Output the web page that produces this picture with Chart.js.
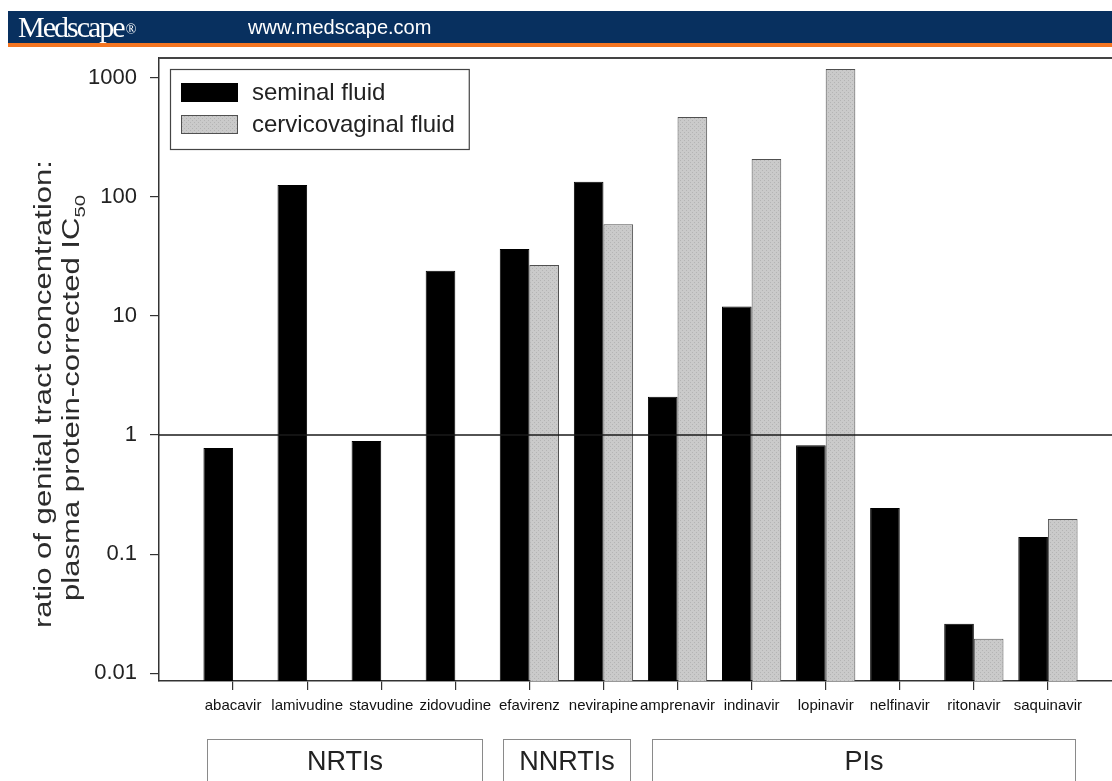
<!DOCTYPE html>
<html lang="en">
<head>
<meta charset="UTF-8" />
<title>Genital tract concentration vs plasma protein-corrected IC50</title>
<script src="https://cdn.jsdelivr.net/npm/chart.js"></script>
<style>
    html, body { margin: 0; padding: 0; background: #fff; overflow: hidden; }
    body { width: 1112px; height: 781px; position: relative; font-family: Arial, 'Liberation Sans', sans-serif; }
    .topbar { position: absolute; left: 8px; top: 11px; right: 0; height: 32px; background: #08305f; border-bottom: 4px solid #f47521; z-index: 2; }
    .brand { position: absolute; left: 10px; top: 0; line-height: 32px; font-family: 'Liberation Serif', 'Times New Roman', serif; font-size: 30px; color: #fff; letter-spacing: -2px; }
    .brand span { font-size: 14px; letter-spacing: 0; vertical-align: 3px; margin-left: 2px; }
    .url { position: absolute; left: 240px; top: 0; line-height: 32px; font-size: 20px; color: #fff; }
    #wrap { position: absolute; left: 0; top: 0; width: 1140px; height: 781px; }
</style>
</head>
<body>
<div class="topbar">
    <div class="brand">Medscape<span>®</span></div>
    <div class="url">www.medscape.com</div>
</div>
<div id="wrap"><canvas id="chart"></canvas></div>

<script>
// data
const drugs = ['abacavir', 'lamivudine', 'stavudine', 'zidovudine', 'efavirenz', 'nevirapine',
               'amprenavir', 'indinavir', 'lopinavir', 'nelfinavir', 'ritonavir', 'saquinavir'];
const seminal = [0.78, 126, 0.89, 24, 36.6, 134, 2.1, 12, 0.82, 0.244, 0.026, 0.139];
const cervicovaginal = [null, null, null, null, 26.8, 59, 470, 208, 1190, null, 0.0195, 0.197];
const seriesNames = ['seminal fluid', 'cervicovaginal fluid'];
const yTicks = [0.01, 0.1, 1, 10, 100, 1000];
const refValue = 1;
const yTitleLines = ['ratio of genital tract concentration:', 'plasma protein-corrected IC'];
const yTitleSub = '50';
const groupNames = ['NRTIs', 'NNRTIs', 'PIs'];
const groupFirst = [0, 4, 6];
const groupLast = [3, 5, 11];

const FONT = 'Arial, "Liberation Sans", sans-serif';

// light grey stipple like the original print
function stipple() {
    const c = document.createElement('canvas');
    c.width = 4; c.height = 4;
    const g = c.getContext('2d');
    g.fillStyle = '#cacaca';
    g.fillRect(0, 0, 4, 4);
    g.fillStyle = '#b4b4b4';
    g.fillRect(0, 0, 1, 1);
    g.fillRect(2, 2, 1, 1);
    return g.createPattern(c, 'repeat');
}
const greyFill = stipple();

const extras = {
    id: 'extras',
    afterDatasetsDraw(chart) {
        const { ctx, chartArea: a, scales: { y } } = chart;
        ctx.save();
        // horizontal reference at ratio = 1
        const y1 = y.getPixelForValue(refValue);
        ctx.strokeStyle = '#1a1a1a';
        ctx.lineWidth = 1.5;
        ctx.beginPath(); ctx.moveTo(a.left, y1); ctx.lineTo(chart.width, y1); ctx.stroke();
        // top frame line
        ctx.strokeStyle = '#444';
        ctx.lineWidth = 2;
        ctx.beginPath(); ctx.moveTo(a.left, a.top); ctx.lineTo(chart.width, a.top); ctx.stroke();
        ctx.restore();
    },
    afterDraw(chart) {
        const { ctx, chartArea: a, scales: { x } } = chart;
        const ds = chart.data.datasets;

        // legend box
        ctx.save();
        ctx.font = '24px ' + FONT;
        const textW = Math.max(...ds.map(d => ctx.measureText(d.label).width));
        const lx = a.left + 11, ly = a.top + 11;
        const boxW = 11 + 57 + 14 + textW + 14, boxH = 80;
        ctx.fillStyle = '#fff';
        ctx.fillRect(lx, ly, boxW, boxH);
        ctx.strokeStyle = '#444';
        ctx.lineWidth = 1.2;
        ctx.strokeRect(lx + 0.5, ly + 0.5, boxW, boxH);
        ds.forEach((d, i) => {
            const sy = ly + 14 + i * 32;
            ctx.fillStyle = d.backgroundColor;
            ctx.fillRect(lx + 11, sy, 57, 19);
            ctx.strokeStyle = d.borderColor;
            ctx.lineWidth = 1;
            ctx.strokeRect(lx + 11.5, sy + 0.5, 56, 18);
            ctx.fillStyle = '#222';
            ctx.textBaseline = 'middle';
            ctx.textAlign = 'left';
            ctx.fillText(d.label, lx + 82, sy + 10);
        });
        ctx.restore();

        // y axis title, two rotated lines, stretched like the original
        ctx.save();
        ctx.fillStyle = '#2b2b2b';
        ctx.font = '23px ' + FONT;
        const w1 = ctx.measureText(yTitleLines[0]).width;
        const sx = 468 / w1;
        ctx.translate(51, 394);
        ctx.rotate(-Math.PI / 2);
        ctx.scale(sx, 1);
        ctx.textAlign = 'center';
        ctx.fillText(yTitleLines[0], 0, 0);
        ctx.restore();

        ctx.save();
        ctx.fillStyle = '#2b2b2b';
        ctx.font = '23px ' + FONT;
        const wMain = ctx.measureText(yTitleLines[1]).width;
        ctx.font = '15px ' + FONT;
        const wSub = ctx.measureText(yTitleSub).width;
        ctx.translate(79, 398);
        ctx.rotate(-Math.PI / 2);
        ctx.scale(sx, 1);
        ctx.textAlign = 'left';
        const start = -(wMain + wSub) / 2;
        ctx.font = '23px ' + FONT;
        ctx.fillText(yTitleLines[1], start, 0);
        ctx.font = '15px ' + FONT;
        ctx.fillText(yTitleSub, start + wMain, 6);
        ctx.restore();

        // drug class boxes under the axis
        ctx.save();
        ctx.strokeStyle = '#8a8a8a';
        ctx.lineWidth = 1;
        ctx.font = '27px ' + FONT;
        ctx.fillStyle = '#222';
        ctx.textAlign = 'center';
        ctx.textBaseline = 'middle';
        groupNames.forEach((name, i) => {
            const left = Math.round(x.getPixelForValue(groupFirst[i] - 0.35)) + 0.5;
            const right = Math.round(x.getPixelForValue(groupLast[i] + 0.36)) + 0.5;
            ctx.strokeRect(left, 739.5, right - left, 80);
            ctx.fillText(name, (left + right) / 2, 763);
        });
        ctx.restore();
    }
};

new Chart(document.getElementById('chart'), {
    type: 'bar',
    data: {
        datasets: [{
            label: seriesNames[0],
            data: drugs.map((d, i) => ({ x: i, y: seminal[i] })),
            backgroundColor: '#000',
            borderColor: '#000',
            borderWidth: 1
        }, {
            label: seriesNames[1],
            data: drugs.map((d, i) => ({ x: i, y: cervicovaginal[i] })),
            backgroundColor: greyFill,
            borderColor: '#505050',
            borderWidth: 1
        }]
    },
    options: {
        responsive: true,
        maintainAspectRatio: false,
        animation: false,
        categoryPercentage: 0.8,
        barPercentage: 1,
        layout: { padding: { left: 0, top: 58, right: 18, bottom: 0 } },
        plugins: {
            legend: { display: false },
            tooltip: { enabled: false }
        },
        scales: {
            x: {
                type: 'linear',
                offset: false,
                min: -1,
                max: drugs.length,
                afterBuildTicks: s => { s.ticks = drugs.map((d, i) => ({ value: i })); },
                afterFit: s => { s.height = 100; },
                grid: { offset: false, drawOnChartArea: false, drawTicks: true, tickLength: 9, color: '#333', lineWidth: 1.2 },
                border: { display: true, color: '#333', width: 1.5 },
                ticks: {
                    callback: v => drugs[v],
                    autoSkip: false,
                    maxRotation: 0,
                    padding: 7,
                    color: '#111',
                    font: { family: FONT, size: 15 }
                }
            },
            y: {
                type: 'logarithmic',
                min: 0.0086,
                max: 1470,
                bounds: 'data',
                afterBuildTicks: s => { s.ticks = yTicks.map(v => ({ value: v })); },
                afterFit: s => { s.width = 159; },
                grid: { drawOnChartArea: false, drawTicks: true, tickLength: 9, color: '#333', lineWidth: 1.2 },
                border: { display: true, color: '#333', width: 1.5 },
                ticks: {
                    callback: v => String(v),
                    padding: 13,
                    color: '#222',
                    font: { family: FONT, size: 22 }
                }
            }
        }
    },
    plugins: [extras]
});
</script>
</body>
</html>
